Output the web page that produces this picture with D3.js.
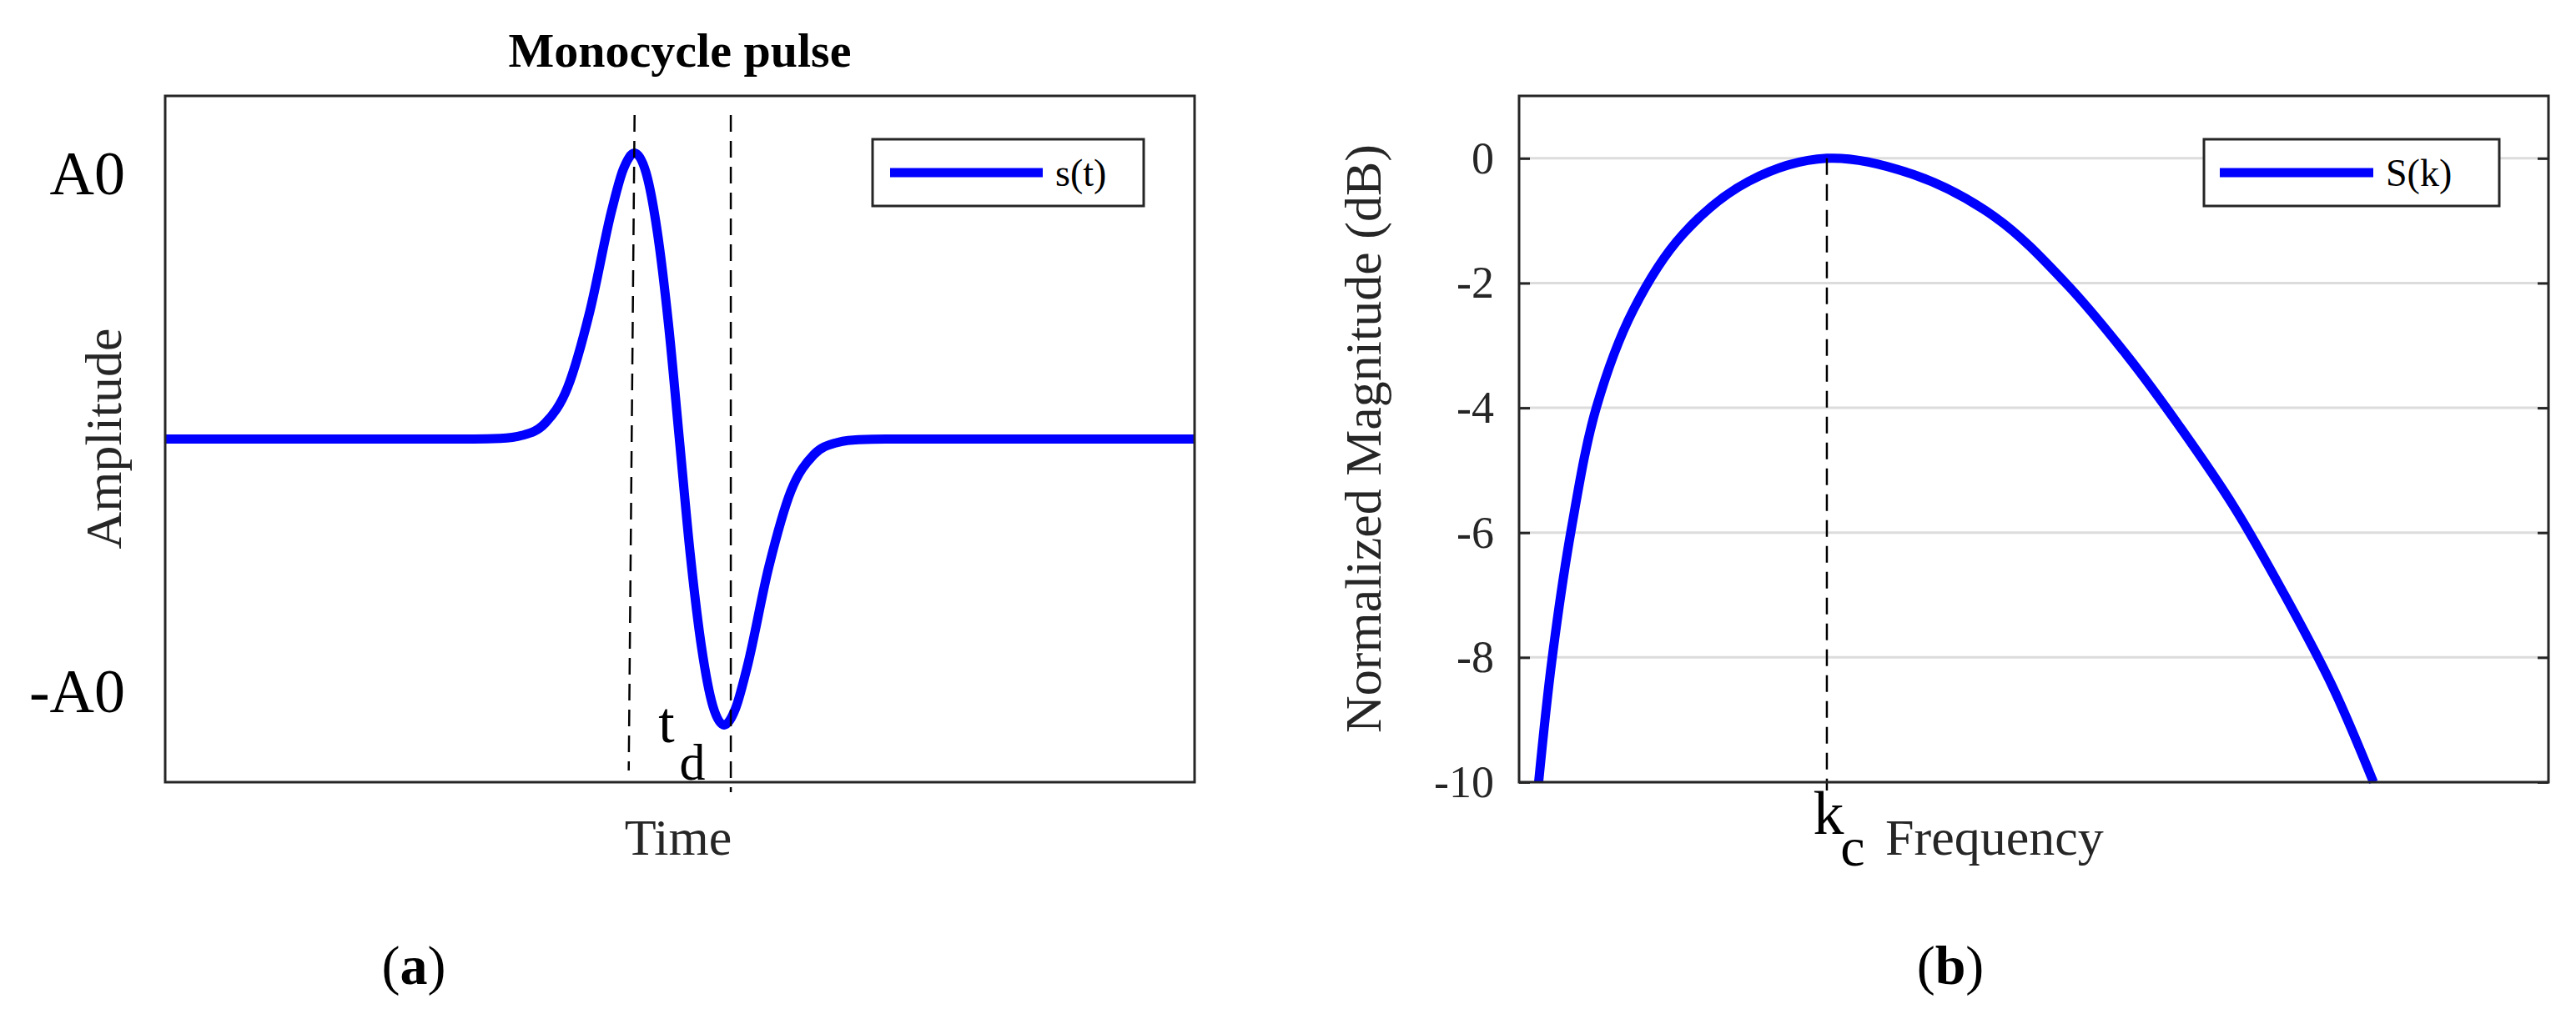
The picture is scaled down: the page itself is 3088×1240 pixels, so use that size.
<!DOCTYPE html>
<html>
<head>
<meta charset="utf-8">
<script src="https://cdn.jsdelivr.net/npm/d3@7"></script>
<style>
body { margin: 0; background: #fff; }
text { font-family: "Liberation Serif", "DejaVu Serif", serif; fill: #262626; }
</style>
</head>
<body>
<svg id="chart" width="3088" height="1240"></svg>
<script>
// panel (a): monocycle pulse, time in arbitrary units 0..100, amplitude relative to A0
var pulseTime = [0, 30, 32.55, 34.7, 36.9, 39.1, 41.25, 43.4, 44.5, 45.6, 46.7, 47.8, 48.9, 49.95,
                 51.0, 52.1, 53.2, 54.3, 55.4, 56.5, 58.65, 60.8, 63.0, 65.2, 67.35, 70, 100];
var pulseAmp = [0, 0, 0.002, 0.013, 0.055, 0.181, 0.446, 0.803, 0.943, 1, 0.933, 0.727, 0.4, 0,
                -0.4, -0.727, -0.933, -1, -0.943, -0.803, -0.446, -0.181, -0.055, -0.013, -0.002, 0, 0];
var pulseTicks = [0.93, -0.88];
var pulseTickLabels = ["A0", "-A0"];
var peakTime = 45.6, troughTime = 54.3;

// panel (b): spectrum, normalized dB
var freq = [1.9, 3.2, 5.1, 7.5, 11.1, 15.9, 22.3, 29.9, 38.3, 46.3, 53.1, 59.1, 64.3, 69.5, 74.3, 79.0, 83.0];
var magDb = [-10, -8.03, -5.92, -4.0, -2.43, -1.22, -0.37, 0, -0.26, -0.95, -2.0, -3.17, -4.33, -5.6, -6.98, -8.46, -10];
var dbTicks = [0, -2, -4, -6, -8, -10];
var kc = 29.9;

var svg = d3.select("#chart");
var axisCol = "#262626";

// ---------- panel (a) ----------
var xa = d3.scaleLinear().domain([0, 100]).range([198, 1432]);
var ya = d3.scaleLinear().domain([-1.2, 1.2]).range([938, 115]);

svg.append("text").attr("x", 815).attr("y", 80).attr("text-anchor", "middle")
  .attr("font-size", 58).attr("font-weight", "bold").style("fill", "#000").text("Monocycle pulse");

var lineA = d3.line().x((d, i) => xa(pulseTime[i])).y(d => ya(d)).curve(d3.curveMonotoneX);
svg.append("path").datum(pulseAmp).attr("d", lineA)
  .attr("fill", "none").attr("stroke", "#0000ff").attr("stroke-width", 11);

// dashed markers
svg.append("line").attr("x1", xa(peakTime)).attr("y1", 138).attr("x2", xa(peakTime) - 7).attr("y2", 924)
  .attr("stroke", "#000").attr("stroke-width", 2.5).attr("stroke-dasharray", "20,11");
svg.append("line").attr("x1", xa(troughTime) + 8).attr("y1", 138).attr("x2", xa(troughTime) + 8).attr("y2", 950)
  .attr("stroke", "#000").attr("stroke-width", 2.5).attr("stroke-dasharray", "20,11");

svg.append("rect").attr("x", 198).attr("y", 115).attr("width", 1234).attr("height", 823)
  .attr("fill", "none").attr("stroke", axisCol).attr("stroke-width", 3);

svg.selectAll(".ta").data(pulseTicks).enter().append("text")
  .attr("x", 150).attr("y", d => ya(d)).attr("dy", "0.35em").attr("text-anchor", "end")
  .attr("font-size", 74).style("fill", "#000").text((d, i) => pulseTickLabels[i]);

svg.append("text").attr("x", 799).attr("y", 890).attr("text-anchor", "middle").attr("font-size", 70).style("fill", "#000").text("t");
svg.append("text").attr("x", 830).attr("y", 935).attr("text-anchor", "middle").attr("font-size", 62).style("fill", "#000").text("d");

svg.append("text").attr("x", 813).attr("y", 1025).attr("text-anchor", "middle").attr("font-size", 62).text("Time");
svg.append("text").attr("transform", "translate(123,526) rotate(-90)").attr("dy", "0.35em")
  .attr("text-anchor", "middle").attr("font-size", 62).text("Amplitude");
svg.append("text").attr("x", 496).attr("y", 1180).attr("text-anchor", "middle").attr("font-size", 66).style("fill", "#000")
  .html('(<tspan font-weight="bold">a</tspan>)');

// legend a
svg.append("rect").attr("x", 1046).attr("y", 167).attr("width", 325).attr("height", 80)
  .attr("fill", "#fff").attr("stroke", axisCol).attr("stroke-width", 3);
svg.append("line").attr("x1", 1067).attr("x2", 1250).attr("y1", 207).attr("y2", 207)
  .attr("stroke", "#0000ff").attr("stroke-width", 11);
svg.append("text").attr("x", 1265).attr("y", 207).attr("dy", "0.35em").attr("font-size", 46).style("fill", "#000").text("s(t)");

// ---------- panel (b) ----------
var xb = d3.scaleLinear().domain([0, 100]).range([1821, 3055]);
var yb = d3.scaleLinear().domain([-10, 1]).range([938, 115]);

svg.selectAll(".grid").data(dbTicks).enter().append("line")
  .attr("x1", 1821).attr("x2", 3055).attr("y1", d => yb(d)).attr("y2", d => yb(d))
  .attr("stroke", "#dcdcdc").attr("stroke-width", 3);

var lineB = d3.line().x((d, i) => xb(freq[i])).y(d => yb(d)).curve(d3.curveCatmullRom);
svg.append("path").datum(magDb).attr("d", lineB)
  .attr("fill", "none").attr("stroke", "#0000ff").attr("stroke-width", 11);

svg.append("line").attr("x1", xb(kc)).attr("x2", xb(kc)).attr("y1", yb(0)).attr("y2", 948)
  .attr("stroke", "#000").attr("stroke-width", 2.5).attr("stroke-dasharray", "20,11");

var axL = svg.append("g").attr("transform", "translate(1821,0)")
  .call(d3.axisLeft(yb).tickValues(dbTicks).tickSize(-13).tickPadding(30).tickFormat(d3.format("d")));
var axR = svg.append("g").attr("transform", "translate(3055,0)")
  .call(d3.axisRight(yb).tickValues(dbTicks).tickSize(-13).tickFormat(""));
[axL, axR].forEach(function(g) {
  g.select(".domain").remove();
  g.selectAll("line").attr("stroke", axisCol).attr("stroke-width", 3);
});
axL.selectAll("text").attr("font-size", 54).attr("font-family", "Liberation Serif").style("fill", axisCol)
  .text(d => d < 0 ? "-" + Math.abs(d) : d);

svg.append("rect").attr("x", 1821).attr("y", 115).attr("width", 1234).attr("height", 823)
  .attr("fill", "none").attr("stroke", axisCol).attr("stroke-width", 3);

svg.append("text").attr("x", 2192).attr("y", 1000).attr("text-anchor", "middle").attr("font-size", 74).style("fill", "#000").text("k");
svg.append("text").attr("x", 2221).attr("y", 1038).attr("text-anchor", "middle").attr("font-size", 66).style("fill", "#000").text("c");
svg.append("text").attr("x", 2260).attr("y", 1025).attr("font-size", 62).text("Frequency");
svg.append("text").attr("transform", "translate(1633,526) rotate(-90)").attr("dy", "0.35em")
  .attr("text-anchor", "middle").attr("font-size", 62).text("Normalized Magnitude (dB)");
svg.append("text").attr("x", 2338).attr("y", 1180).attr("text-anchor", "middle").attr("font-size", 66).style("fill", "#000")
  .html('(<tspan font-weight="bold">b</tspan>)');

// legend b
svg.append("rect").attr("x", 2642).attr("y", 167).attr("width", 354).attr("height", 80)
  .attr("fill", "#fff").attr("stroke", axisCol).attr("stroke-width", 3);
svg.append("line").attr("x1", 2661).attr("x2", 2845).attr("y1", 207).attr("y2", 207)
  .attr("stroke", "#0000ff").attr("stroke-width", 11);
svg.append("text").attr("x", 2860).attr("y", 207).attr("dy", "0.35em").attr("font-size", 46).style("fill", "#000").text("S(k)");
</script>
</body>
</html>
